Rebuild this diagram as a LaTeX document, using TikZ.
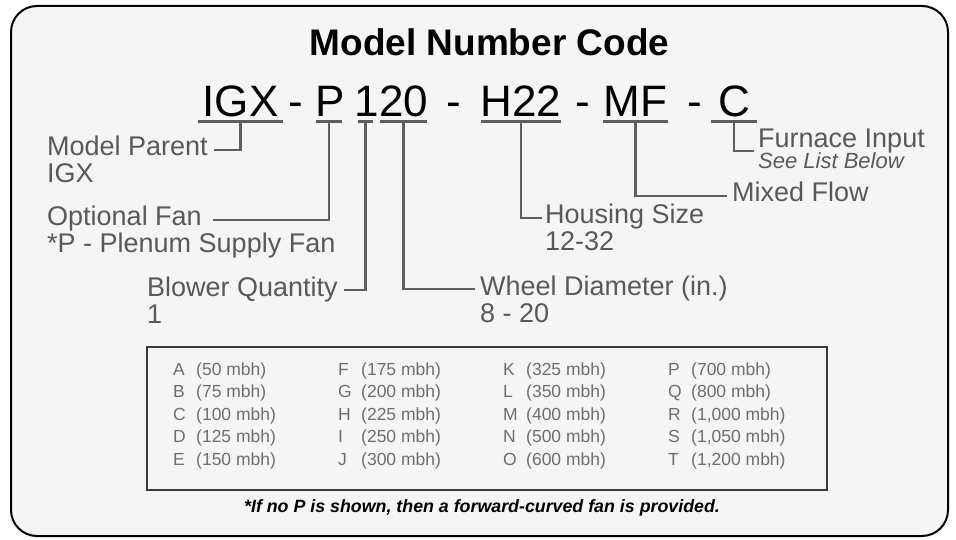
\documentclass[tikz,border=0pt]{standalone}
\usepackage{fontspec}
\setmainfont{Liberation Sans}
\usetikzlibrary{positioning}
\definecolor{frameFill}{HTML}{F5F5F5}
\definecolor{leadGray}{HTML}{5E5E5E}
\definecolor{lblGray}{HTML}{58595B}
\definecolor{entryGray}{HTML}{6D6E70}
\definecolor{boxLine}{HTML}{3A3A3A}

\begin{document}
\begin{tikzpicture}[
  x=1pt, y=-1pt,
  frame/.style={
    draw=black,
    line width=2pt,
    fill=frameFill,
    rounded corners=26pt,
    minimum width=937pt,
    minimum height=530pt,
    inner sep=0pt
  },
  heading/.style={font=\fontsize{37}{37}\selectfont\bfseries,
                  anchor=base, inner sep=0pt},
  code/.style={font=\fontsize{44}{44}\selectfont,
               anchor=base, inner sep=0pt},
  uline/.style={fill=leadGray, minimum height=2.6pt, inner sep=0pt},
  lbl/.style={font=\fontsize{27}{27}\selectfont, text=lblGray,
              anchor=base west, inner sep=0pt,
              text height=12pt, text depth=0pt},
  hint/.style={font=\fontsize{22}{22}\selectfont\itshape, text=lblGray,
               anchor=base west, inner sep=0pt},
  listbox/.style={draw=boxLine, line width=1.2pt,
                  minimum width=680pt, minimum height=143pt},
  entry/.style={font=\fontsize{17.5}{17.5}\selectfont, text=entryGray,
                anchor=base west, inner sep=0pt},
  note/.style={font=\fontsize{17.8}{17.8}\selectfont\bfseries\itshape,
               anchor=base, inner sep=0pt},
  lead/.style={draw=leadGray, line width=2.5pt, shorten >=6pt}
]
\useasboundingbox (0,0) rectangle (956,540);

%% --- frame and heading ---
\node[frame] (frame) at (479.5,271) {};
\node[heading] (title) at (489.5,56) {Model Number Code};

%% --- code line ---
\node[code] (igx)    at (240.5,117) {IGX};
\node[code] (d1)     at (296,117)   {-};
\node[code] (p)      at (330,117)   {P};
\node[code] (one)    at (366.5,117) {1};
\node[code] (twenty) at (404,117)   {20};
\node[code] (d2)     at (454,117)   {-};
\node[code] (h)      at (521,117)   {H22};
\node[code] (d3)     at (583,117)   {-};
\node[code] (mf)     at (635.5,117) {MF};
\node[code] (d4)     at (695,117)   {-};
\node[code] (c)      at (734,117)   {C};

%% --- underlines ---
\node[uline, minimum width=85pt] (igxu)    at (240.5,121.5) {};
\node[uline, minimum width=26pt] (pu)      at (329,121.5)   {};
\node[uline, minimum width=15pt] (oneu)    at (365.5,121.5) {};
\node[uline, minimum width=47pt] (twentyu) at (403.5,121.5) {};
\node[uline, minimum width=80pt] (hu)      at (521,121.5)   {};
\node[uline, minimum width=65pt] (mfu)     at (635.5,121.5) {};
\node[uline, minimum width=46pt] (cu)      at (734,121.5)   {};

%% --- labels ---
\node[lbl] (parent)    at (47,156) {Model Parent};
\node[lbl] (parentsub) at ([yshift=-27pt]parent.base west) {IGX};
\node[lbl] (fan)       at (47,226) {Optional Fan};
\node[lbl] (fansub)    at ([yshift=-27pt]fan.base west) {*P - Plenum Supply Fan};
\node[lbl] (qty)       at (147,296) {Blower Quantity};
\node[lbl] (qtysub)    at ([yshift=-27pt]qty.base west) {1};
\node[lbl] (wheel)     at (480,295) {Wheel Diameter (in.)};
\node[lbl] (wheelsub)  at ([yshift=-27pt]wheel.base west) {8 - 20};
\node[lbl] (housing)   at (545,224) {Housing Size};
\node[lbl] (housingsub) at ([yshift=-27pt]housing.base west) {12-32};
\node[lbl] (flow)      at (732,202) {Mixed Flow};
\node[lbl] (input)     at (758,148) {Furnace Input};
\node[hint] (inputsub) at ([yshift=-21pt]input.base west) {See List Below};

%% --- leaders ---
\draw[lead] (igxu.south)    |- (parent.east);
\draw[lead, shorten >=11pt] (pu.south) |- (fan.east);
\draw[lead] (oneu.south)    |- (qty.east);
\draw[lead, shorten >=5pt] (twentyu.south) |- (wheel.west);
\draw[lead, shorten >=3pt] (hu.south) |- (housing.west);
\draw[lead, shorten >=5pt] (mfu.south) |- (flow.west);
\draw[lead, shorten >=4pt] (cu.south) |- ([yshift=-3pt]input.base west);

%% --- furnace input list ---
\node[listbox] (list) at (487,418.5) {};
\foreach \ltr/\val [count=\i from 0] in {A/50,B/75,C/100,D/125,E/150,
    F/175,G/200,H/225,I/250,J/300,K/325,L/350,M/400,N/500,O/600,
    P/700,Q/800,R/{1,000},S/{1,050},T/{1,200}}{
  \pgfmathtruncatemacro\col{\i/5}
  \pgfmathtruncatemacro\row{mod(\i,5)}
  \node[entry] (e-\ltr) at (173+165*\col, 375+22.5*\row)
    {\makebox[23pt][l]{\ltr}(\val\ mbh)};
}

\node[note] (footnote) at (482,512)
  {*If no P is shown, then a forward-curved fan is provided.};

\end{tikzpicture}
\end{document}
